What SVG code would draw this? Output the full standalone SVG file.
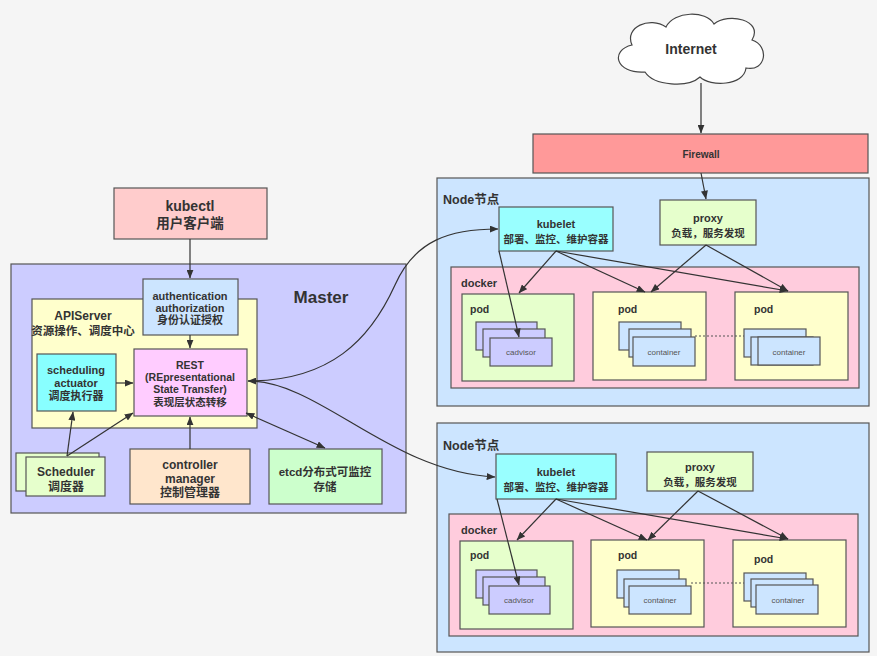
<svg xmlns="http://www.w3.org/2000/svg" width="877" height="656" viewBox="0 0 877 656">
<defs>
<marker id="ah" viewBox="0 0 10 8" refX="9.5" refY="4" markerWidth="9" markerHeight="7" markerUnits="userSpaceOnUse" orient="auto-start-reverse">
<path d="M0,0 L10,4 L0,8 z" fill="#333"/>
</marker>
<style>
.b{stroke:#555;stroke-width:1.2}
.t{font-family:"Liberation Sans","Noto Sans CJK SC",sans-serif;font-weight:bold;fill:#333;text-anchor:middle}
.s{font-family:"Liberation Sans","Noto Sans CJK SC",sans-serif;fill:#555;text-anchor:middle;font-size:8px}
.l{font-family:"Liberation Sans","Noto Sans CJK SC",sans-serif;font-weight:bold;fill:#333}
.c{fill:none;stroke:#333;stroke-width:1.2}
</style>
</defs>
<rect width="877" height="656" fill="#f5f5f5"/>

<g id="master">
<rect class="b" x="11" y="264" width="395" height="249" fill="#ccccff"/>
<text class="t" x="321" y="303" font-size="17">Master</text>
</g>
<g id="apiserver">
<rect class="b" x="32" y="299" width="225" height="129" fill="#ffffcc"/>
<text class="t" x="83" y="320" font-size="12">APIServer</text>
<text class="t" x="83" y="335" font-size="11.5">资源操作、调度中心</text>
</g>
<g id="kubectl">
<rect class="b" x="114" y="188" width="153" height="51" fill="#ffcccc"/>
<text class="t" x="190" y="211" font-size="14">kubectl</text>
<text class="t" x="190" y="228" font-size="13.5">用户客户端</text>
</g>
<g id="auth">
<rect class="b" x="143" y="279" width="95" height="56" fill="#cce5ff"/>
<text class="t" x="190" y="300" font-size="11">authentication</text>
<text class="t" x="190" y="312" font-size="11">authorization</text>
<text class="t" x="190" y="324" font-size="11">身份认证授权</text>
</g>
<g id="rest">
<rect class="b" x="134" y="349" width="113" height="67" fill="#ffccff"/>
<text class="t" x="190" y="369" font-size="10.5">REST</text>
<text class="t" x="190" y="381" font-size="10.5">(REpresentational</text>
<text class="t" x="190" y="393" font-size="10.5">State Transfer)</text>
<text class="t" x="190" y="406" font-size="10.5">表现层状态转移</text>
</g>
<g id="actuator">
<rect class="b" x="37" y="354" width="79" height="57" fill="#88ffff"/>
<text class="t" x="76" y="374" font-size="11">scheduling</text>
<text class="t" x="76" y="387" font-size="11">actuator</text>
<text class="t" x="76" y="400" font-size="11">调度执行器</text>
</g>
<g id="scheduler">
<rect class="b" x="16" y="453" width="83" height="38" fill="#e6ffcc"/>
<rect class="b" x="26" y="457" width="79" height="39" fill="#e6ffcc"/>
<text class="t" x="66" y="476" font-size="12">Scheduler</text>
<text class="t" x="66" y="491" font-size="12">调度器</text>
</g>
<g id="controller">
<rect class="b" x="130" y="449" width="120" height="55" fill="#ffe6cc"/>
<text class="t" x="190" y="469" font-size="12">controller</text>
<text class="t" x="190" y="483" font-size="12">manager</text>
<text class="t" x="190" y="497" font-size="12">控制管理器</text>
</g>
<g id="etcd">
<rect class="b" x="269" y="449" width="113" height="55" fill="#ccffcc"/>
<text class="t" x="325" y="476" font-size="11.5">etcd分布式可监控</text>
<text class="t" x="325" y="491" font-size="11.5">存储</text>
</g>

<g id="internet">
<path d="M 645 72 C 615 74, 610 50, 632 45 C 624 27, 650 16, 666 27 C 674 11, 706 10, 714 24 C 728 12, 764 20, 752 40 C 770 46, 766 72, 746 68 C 744 86, 710 87, 700 77 C 688 88, 654 86, 645 72 Z" fill="#ffffff" stroke="#444" stroke-width="1.2"/>
<text class="t" x="691" y="54" font-size="14">Internet</text>
</g>
<g id="firewall">
<rect class="b" x="533" y="134" width="335" height="39" fill="#ff9999"/>
<text class="t" x="701" y="158" font-size="10" fill="#4a2a2a">Firewall</text>
</g>

<g id="node1">
<rect class="b" x="437" y="178" width="432" height="228" fill="#cce5ff"/>
<text class="l" x="443" y="204" font-size="12.5">Node节点</text>
</g>
<g id="kubelet1">
<rect class="b" x="499" y="207" width="114" height="44" fill="#99ffff"/>
<text class="t" x="556" y="228" font-size="11">kubelet</text>
<text class="t" x="556" y="243" font-size="10.5">部署、监控、维护容器</text>
</g>
<g id="proxy1">
<rect class="b" x="660" y="200" width="96" height="45" fill="#e6ffcc"/>
<text class="t" x="708" y="222" font-size="11">proxy</text>
<text class="t" x="708" y="237" font-size="10.5">负载，服务发现</text>
</g>
<g id="docker1">
<rect class="b" x="451" y="267" width="408" height="121" fill="#ffccdd"/>
<text class="l" x="461" y="287" font-size="11">docker</text>
</g>
<g id="pod1a">
<rect class="b" x="462" y="294" width="112" height="87" fill="#e6ffcc"/>
<text class="l" x="470" y="313" font-size="10.5">pod</text>
<rect class="b" x="476" y="322" width="61" height="28" fill="#ccccff"/>
<rect class="b" x="483" y="329" width="62" height="28" fill="#ccccff"/>
<rect class="b" x="490" y="338" width="62" height="28" fill="#ccccff"/>
<text class="s" x="521" y="355">cadvisor</text>
</g>
<g id="pod1b">
<rect class="b" x="593" y="292" width="113" height="88" fill="#ffffcc"/>
<text class="l" x="618" y="313" font-size="10.5">pod</text>
<rect class="b" x="619" y="322" width="62" height="28" fill="#cce5ff"/>
<rect class="b" x="629" y="329" width="62" height="28" fill="#cce5ff"/>
<rect class="b" x="633" y="337" width="62" height="29" fill="#cce5ff"/>
<text class="s" x="664" y="355">container</text>
</g>
<g id="pod1c">
<rect class="b" x="735" y="292" width="113" height="88" fill="#ffffcc"/>
<text class="l" x="754" y="313" font-size="10.5">pod</text>
<rect class="b" x="744" y="329" width="62" height="28" fill="#cce5ff"/>
<rect class="b" x="751" y="337" width="62" height="28" fill="#cce5ff"/>
<rect class="b" x="758" y="337" width="62" height="28" fill="#cce5ff"/>
<text class="s" x="789" y="355">container</text>
</g>

<g id="node2">
<rect class="b" x="437" y="423" width="432" height="229" fill="#cce5ff"/>
<text class="l" x="443" y="450" font-size="12.5">Node节点</text>
</g>
<g id="kubelet2">
<rect class="b" x="496" y="454" width="120" height="45" fill="#99ffff"/>
<text class="t" x="556" y="476" font-size="11">kubelet</text>
<text class="t" x="556" y="491" font-size="10.5">部署、监控、维护容器</text>
</g>
<g id="proxy2">
<rect class="b" x="647" y="452" width="106" height="39" fill="#e6ffcc"/>
<text class="t" x="700" y="471" font-size="11">proxy</text>
<text class="t" x="700" y="486" font-size="10.5">负载，服务发现</text>
</g>
<g id="docker2">
<rect class="b" x="449" y="514" width="409" height="122" fill="#ffccdd"/>
<text class="l" x="461" y="534" font-size="11">docker</text>
</g>
<g id="pod2a">
<rect class="b" x="460" y="541" width="113" height="88" fill="#e6ffcc"/>
<text class="l" x="470" y="559" font-size="10.5">pod</text>
<rect class="b" x="476" y="570" width="61" height="28" fill="#ccccff"/>
<rect class="b" x="483" y="577" width="62" height="28" fill="#ccccff"/>
<rect class="b" x="489" y="586" width="61" height="28" fill="#ccccff"/>
<text class="s" x="519" y="603">cadvisor</text>
</g>
<g id="pod2b">
<rect class="b" x="591" y="540" width="113" height="87" fill="#ffffcc"/>
<text class="l" x="618" y="559" font-size="10.5">pod</text>
<rect class="b" x="617" y="570" width="62" height="28" fill="#cce5ff"/>
<rect class="b" x="624" y="579" width="62" height="28" fill="#cce5ff"/>
<rect class="b" x="629" y="586" width="62" height="28" fill="#cce5ff"/>
<text class="s" x="660" y="603">container</text>
</g>
<g id="pod2c">
<rect class="b" x="733" y="540" width="113" height="87" fill="#ffffcc"/>
<text class="l" x="754" y="563" font-size="10.5">pod</text>
<rect class="b" x="744" y="573" width="62" height="28" fill="#cce5ff"/>
<rect class="b" x="751" y="579" width="62" height="28" fill="#cce5ff"/>
<rect class="b" x="756" y="585" width="62" height="29" fill="#cce5ff"/>
<text class="s" x="788" y="603">container</text>
</g>

<g id="connectors">
<line class="c" x1="190" y1="239" x2="190" y2="278" marker-end="url(#ah)"/>
<line class="c" x1="190" y1="335" x2="190" y2="348" marker-end="url(#ah)"/>
<line class="c" x1="116" y1="383" x2="133" y2="383" marker-end="url(#ah)"/>
<line class="c" x1="67" y1="456" x2="73" y2="412" marker-end="url(#ah)"/>
<line class="c" x1="67" y1="456" x2="133" y2="413" marker-end="url(#ah)"/>
<line class="c" x1="190" y1="449" x2="190" y2="417" marker-end="url(#ah)"/>
<line class="c" x1="246" y1="413" x2="325" y2="448" marker-start="url(#ah)" marker-end="url(#ah)"/>
<path class="c" d="M 248 381 C 330 381, 370 340, 395 285 C 415 240, 450 229, 498 229" marker-start="url(#ah)" marker-end="url(#ah)"/>
<path class="c" d="M 248 381 C 320 381, 390 472, 495 477" marker-end="url(#ah)"/>
<line class="c" x1="701" y1="83" x2="701" y2="133" marker-end="url(#ah)"/>
<line class="c" x1="701" y1="173" x2="706" y2="199" marker-end="url(#ah)"/>
<line class="c" x1="499" y1="251" x2="519" y2="337" marker-end="url(#ah)"/>
<line class="c" x1="556" y1="251" x2="519" y2="293" marker-end="url(#ah)"/>
<line class="c" x1="556" y1="251" x2="645" y2="292" marker-end="url(#ah)"/>
<line class="c" x1="556" y1="251" x2="788" y2="291" marker-end="url(#ah)"/>
<line class="c" x1="706" y1="245" x2="651" y2="292" marker-end="url(#ah)"/>
<line class="c" x1="706" y1="245" x2="788" y2="291" marker-end="url(#ah)"/>
<line x1="695" y1="336" x2="744" y2="336" stroke="#555" stroke-width="1.2" stroke-dasharray="2,2"/>
<line class="c" x1="497" y1="499" x2="519" y2="585" marker-end="url(#ah)"/>
<line class="c" x1="556" y1="499" x2="517" y2="540" marker-end="url(#ah)"/>
<line class="c" x1="556" y1="499" x2="647" y2="540" marker-end="url(#ah)"/>
<line class="c" x1="556" y1="499" x2="788" y2="539" marker-end="url(#ah)"/>
<line class="c" x1="698" y1="491" x2="648" y2="540" marker-end="url(#ah)"/>
<line class="c" x1="698" y1="491" x2="788" y2="539" marker-end="url(#ah)"/>
<line x1="691" y1="583" x2="744" y2="583" stroke="#555" stroke-width="1.2" stroke-dasharray="2,2"/>
</g>
</svg>
